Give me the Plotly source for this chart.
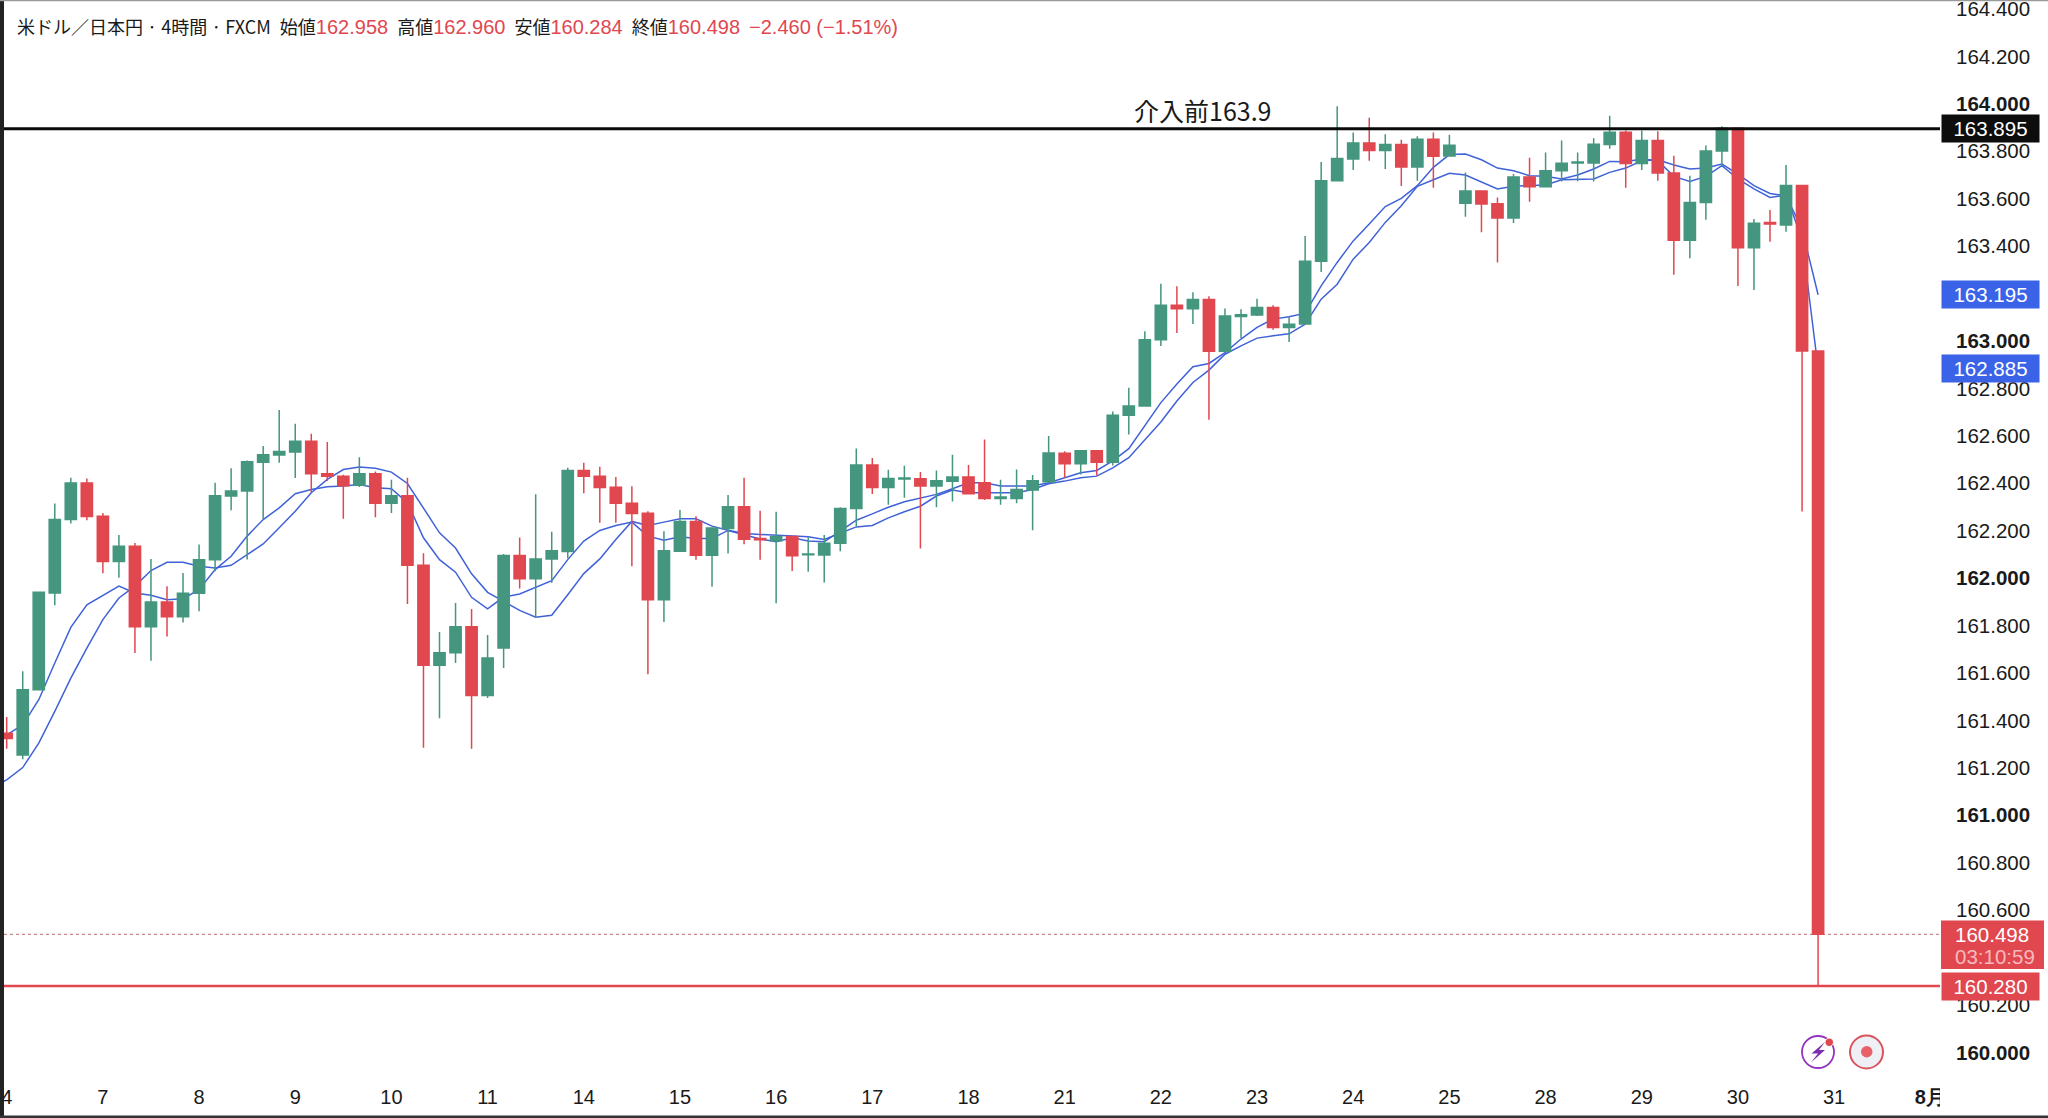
import numpy as np
import plotly.graph_objects as go

W, H = 2048, 1118
L, R, T, B = 4, 1940, 0, 1083  # plot rectangle in pixels

opens = [161.346,161.254,161.529,161.937,162.247,162.401,162.261,162.070,162.134,161.795,
161.899,161.837,161.936,162.077,162.346,162.367,162.489,162.519,162.532,162.577,
162.440,162.430,162.392,162.440,162.316,162.347,162.054,161.632,161.685,161.795,
161.505,161.705,162.095,161.997,162.081,162.112,162.454,162.430,162.383,162.316,
162.273,161.909,162.113,162.239,162.096,162.209,162.301,162.167,162.158,162.175,
162.098,162.097,162.147,162.294,162.477,162.382,162.418,162.419,162.388,162.408,
162.426,162.402,162.336,162.336,162.371,162.406,162.526,162.482,162.537,162.488,
162.687,162.726,163.005,163.151,163.136,163.175,162.957,163.103,163.109,163.141,
163.057,163.071,163.336,163.675,163.767,163.835,163.803,163.828,163.734,163.850,
163.780,163.581,163.632,163.579,163.518,163.691,163.650,163.718,163.750,163.750,
163.828,163.880,163.748,163.845,163.708,163.425,163.584,163.801,163.897,163.393,
163.499,163.489,163.655,162.958]
highs = [161.414,161.607,161.943,162.315,162.423,162.420,162.274,162.182,162.148,162.081,
161.966,162.022,162.142,162.402,162.463,162.496,162.557,162.709,162.651,162.609,
162.574,162.436,162.510,162.450,162.415,162.423,162.105,161.773,161.895,161.870,
161.760,162.102,162.171,162.354,162.195,162.465,162.486,162.470,162.426,162.387,
162.282,162.198,162.287,162.261,162.212,162.350,162.423,162.284,162.280,162.175,
162.172,162.182,162.299,162.546,162.506,162.457,162.474,162.447,162.454,162.520,
162.477,162.584,162.415,162.458,162.435,162.599,162.535,162.537,162.537,162.702,
162.803,163.041,163.241,163.231,163.205,163.188,163.137,163.134,163.178,163.151,
163.101,163.443,163.755,163.990,163.879,163.941,163.872,163.848,163.863,163.879,
163.869,163.710,163.635,163.605,163.704,163.772,163.795,163.845,163.795,163.855,
163.950,163.887,163.887,163.884,163.781,163.697,163.824,163.905,163.897,163.514,
163.552,163.742,163.655,162.960]
lows = [161.280,161.236,161.529,161.885,162.230,162.244,162.020,162.001,161.684,161.652,
161.754,161.813,161.860,162.029,162.286,162.078,162.247,162.486,162.422,162.360,
162.409,162.250,162.384,162.257,162.275,161.891,161.285,161.409,161.642,161.280,
161.494,161.621,161.956,161.832,161.980,162.084,162.358,162.233,162.233,162.050,
161.595,161.815,162.113,162.077,161.964,162.104,162.143,162.077,161.894,162.030,
162.027,161.981,162.113,162.219,162.355,162.309,162.339,162.125,162.299,162.323,
162.354,162.329,162.309,162.316,162.202,162.406,162.422,162.437,162.433,162.475,
162.606,162.726,162.979,163.033,163.072,162.668,162.957,163.012,163.105,163.047,
162.996,163.068,163.291,163.672,163.721,163.760,163.725,163.653,163.676,163.646,
163.780,163.524,163.458,163.331,163.497,163.587,163.650,163.672,163.673,163.672,
163.810,163.646,163.721,163.676,163.279,163.349,163.511,163.739,163.232,163.215,
163.418,163.460,162.281,160.284]
closes = [161.324,161.529,161.940,162.247,162.401,162.260,162.070,162.134,161.795,161.899,
161.837,161.936,162.077,162.347,162.367,162.491,162.520,162.534,162.577,162.440,
162.429,162.389,162.440,162.316,162.347,162.054,161.632,161.685,161.795,161.505,
161.663,162.095,161.997,162.081,162.115,162.454,162.429,162.382,162.316,162.272,
161.909,162.115,162.239,162.096,162.211,162.301,162.164,162.162,162.175,162.094,
162.102,162.147,162.294,162.477,162.382,162.420,162.422,162.388,162.410,162.426,
162.356,162.336,162.342,162.374,162.411,162.527,162.482,162.537,162.488,162.687,
162.726,163.005,163.151,163.136,163.175,162.957,163.105,163.110,163.141,163.057,
163.070,163.336,163.676,163.769,163.835,163.803,163.828,163.734,163.850,163.779,
163.825,163.632,163.577,163.518,163.691,163.650,163.718,163.749,163.755,163.829,
163.880,163.748,163.845,163.708,163.425,163.584,163.801,163.897,163.393,163.496,
163.493,163.655,162.958,160.498]

# moving averages, first value sits one bar before the first candle
ma_fast = [161.310,161.339,161.381,161.487,161.642,161.792,161.887,161.926,161.966,161.937,161.928,
161.909,161.913,161.951,162.036,162.092,162.177,162.247,162.296,162.356,162.374,
162.385,162.388,162.395,162.381,162.377,162.318,162.170,162.078,162.025,161.919,
161.870,161.920,161.933,161.961,161.989,162.078,162.156,162.201,162.222,162.236,
162.177,162.160,162.174,162.167,162.167,162.201,162.184,162.165,162.153,162.170,
162.156,162.153,162.198,162.244,162.271,162.299,162.322,162.336,162.353,162.377,
162.402,162.402,162.388,162.388,162.388,162.402,162.423,162.444,162.454,162.494,
162.546,162.642,162.740,162.818,162.891,162.905,162.951,163.008,163.057,163.092,
163.102,163.117,163.232,163.331,163.422,163.493,163.567,163.601,163.655,163.732,
163.786,163.788,163.764,163.729,163.718,163.697,163.694,163.683,163.700,163.725,
163.757,163.756,163.767,163.760,163.694,163.673,163.694,163.739,163.683,163.641,
163.605,163.615,163.429,162.885]
ma_slow = [161.120,161.149,161.201,161.304,161.438,161.578,161.705,161.825,161.916,161.966,162.032,
162.067,162.067,162.050,162.043,162.054,162.099,162.144,162.212,162.282,162.360,
162.416,162.458,162.468,162.463,162.447,162.399,162.296,162.191,162.127,162.018,
161.940,161.902,161.864,161.835,161.843,161.930,162.019,162.081,162.163,162.239,
162.222,162.236,162.250,162.250,162.219,162.202,162.188,162.184,162.180,162.177,
162.174,162.163,162.191,162.216,162.222,162.254,162.280,162.303,162.346,162.371,
162.360,162.360,162.357,162.360,162.374,162.398,162.409,162.423,162.430,162.465,
162.508,162.585,162.658,162.747,162.825,162.877,162.944,162.979,163.012,163.022,
163.030,163.071,163.176,163.239,163.345,163.415,163.500,163.570,163.652,163.680,
163.707,163.700,163.672,163.641,163.652,163.655,163.658,163.680,163.683,163.683,
163.711,163.729,163.760,163.764,163.742,163.725,163.729,163.746,163.704,163.655,
163.622,163.612,163.472,163.195]

day_labels = ["4","7","8","9","10","11","14","15","16","17","18","21","22","23","24",
              "25","28","29","30","31","<b>8月</b>"]
bars_per_day = 6
price_ticks = [round(160 + 0.2*k, 1) for k in range(23)]

level_before = 163.895
level_low = 160.280
level_last = 160.498
ma_last_slow = 163.195
ma_last_fast = 162.885

GREEN, RED, BLUE, INK = "#44967f", "#e0474f", "#3f62d9", "#1a1a1a"
FONT = "Liberation Sans, Arial, sans-serif"
CJK = "Noto Sans CJK JP, sans-serif"

x0_px, step_px = 6.7, 16.03
y164_px, unit_px = 103.8, 237.15
x_range = [(L - x0_px)/step_px, (R - x0_px)/step_px]
y_range = [164 - (B - y164_px)/unit_px, 164 - (T - y164_px)/unit_px]

def px(x):  # pixel to paper x
    return (x - L)/(R - L)
def py(y):  # pixel to paper y
    return (B - y)/(B - T)

fig = go.Figure()
idx = np.arange(len(opens))
ma_x = np.arange(-1, len(opens))
fig.add_trace(go.Scatter(x=ma_x, y=ma_fast, mode="lines", line=dict(color=BLUE, width=1.5),
                         hoverinfo="skip", zorder=0))
fig.add_trace(go.Scatter(x=ma_x, y=ma_slow, mode="lines", line=dict(color=BLUE, width=1.5),
                         hoverinfo="skip", zorder=0))
fig.add_trace(go.Candlestick(
    x=idx, open=opens, high=highs, low=lows, close=closes, whiskerwidth=0, zorder=1,
    increasing=dict(line=dict(color=GREEN, width=1.5), fillcolor=GREEN),
    decreasing=dict(line=dict(color=RED, width=1.5), fillcolor=RED)))

bolt = [(1825, 1042), (1811.5, 1053.5), (1818, 1053.5), (1811, 1062.5), (1825, 1050), (1819, 1050)]
bolt_path = "M " + " L ".join(f"{px(a):.5f} {py(b):.5f}" for a, b in bolt) + " Z"

shapes = [
    dict(type="line", xref="x domain", yref="y", x0=0, x1=1, y0=level_last, y1=level_last,
         line=dict(color="#c98a8e", width=1.2, dash="dot"), layer="below"),
    dict(type="line", xref="x domain", yref="y", x0=0, x1=1, y0=level_before, y1=level_before,
         line=dict(color="#0a0a0a", width=3)),
    dict(type="line", xref="x domain", yref="y", x0=0, x1=1, y0=level_low, y1=level_low,
         line=dict(color=RED, width=2.5)),
    # window frame and clipped time scale edges
    dict(type="rect", xref="paper", yref="paper", x0=px(1940), x1=px(1955), y0=py(1084), y1=py(1112),
         fillcolor="white", line_width=0),
    dict(type="rect", xref="paper", yref="paper", x0=px(0), x1=px(4), y0=py(0), y1=py(1118),
         fillcolor="#222222", line_width=0),
    dict(type="rect", xref="paper", yref="paper", x0=px(0), x1=px(2048), y0=py(1115.5), y1=py(1118),
         fillcolor="#333333", line_width=0),
    dict(type="rect", xref="paper", yref="paper", x0=px(0), x1=px(2048), y0=py(0), y1=py(1.2),
         fillcolor="#9a9a9a", line_width=0),
    # last price tag box
    dict(type="rect", xref="paper", yref="paper", x0=px(1941), x1=px(2044), y0=py(920.5), y1=py(969),
         fillcolor=RED, line_width=0),
    # icons
    dict(type="circle", xref="paper", yref="paper", x0=px(1802), x1=px(1834), y0=py(1036), y1=py(1068),
         fillcolor="white", line=dict(color="#9333c0", width=1.8)),
    dict(type="circle", xref="paper", yref="paper", x0=px(1825), x1=px(1833.5), y0=py(1038), y1=py(1046.5),
         fillcolor=RED, line=dict(color="white", width=1)),
    dict(type="path", xref="paper", yref="paper", path=bolt_path, fillcolor="#7b2fb0", line_width=0),
    dict(type="circle", xref="paper", yref="paper", x0=px(1850), x1=px(1883), y0=py(1035.5), y1=py(1068.5),
         fillcolor="#eef0f6", line=dict(color="#d9545c", width=2)),
    dict(type="circle", xref="paper", yref="paper", x0=px(1861), x1=px(1872.5), y0=py(1046), y1=py(1057.5),
         fillcolor="#e8606a", line_width=0),
]

def tag(y, text, bg, width=97, height=27):
    return dict(xref="paper", yref="y", x=px(1941), y=y, xanchor="left", yanchor="middle",
                text=text, showarrow=False, bgcolor=bg, width=width, height=height,
                align="center", borderpad=0, font=dict(family=FONT, size=20.5, color="white"))

NUM = f'<span style="color:{RED};font-family:Liberation Sans;font-size:20px">'
GAP = "\u2002"
header = (f"米ドル／日本円 · 4時間 · FXCM{GAP}始値{NUM}162.958</span>{GAP}高値{NUM}162.960</span>"
          f"{GAP}安値{NUM}160.284</span>{GAP}終値{NUM}160.498</span>{GAP}{NUM}−2.460 (−1.51%)</span>")

annotations = [
    dict(xref="paper", yref="paper", x=px(15), y=py(26), xanchor="left", yanchor="middle", showarrow=False,
         text=header, font=dict(family=CJK, size=18, color=INK)),
    dict(xref="x", yref="y", x=74.6, y=163.975, showarrow=False, text="介入前163.9",
         font=dict(family=CJK, size=25, color=INK)),
    tag(level_before, f"{level_before:.3f}", "#0d0d0d"),
    tag(ma_last_slow, f"{ma_last_slow:.3f}", "#3a63e8"),
    tag(ma_last_fast, f"{ma_last_fast:.3f}", "#3a63e8"),
    tag(level_low, f"{level_low:.3f}", RED),
    dict(xref="paper", yref="paper", x=px(1953), y=py(934), xanchor="left", yanchor="middle", showarrow=False,
         text=f"{level_last:.3f}", font=dict(family=FONT, size=20.5, color="white")),
    dict(xref="paper", yref="paper", x=px(1953), y=py(956), xanchor="left", yanchor="middle", showarrow=False,
         text="03:10:59", font=dict(family=FONT, size=20.5, color="#f6b9bc")),
]

fig.update_layout(
    width=W, height=H, autosize=False,
    margin=dict(l=L, r=W-R, t=T, b=H-B, autoexpand=False),
    paper_bgcolor="white", plot_bgcolor="white",
    showlegend=False, boxgap=0.3, boxgroupgap=0,
    shapes=shapes, annotations=annotations,
    xaxis=dict(range=x_range, rangeslider=dict(visible=False), showgrid=False, zeroline=False,
               tickmode="array", tickvals=[k*bars_per_day for k in range(len(day_labels))],
               ticktext=day_labels, ticks="", showline=False, ticklabelstandoff=0,
               tickfont=dict(family=FONT, size=20, color=INK)),
    yaxis=dict(range=y_range, side="right", showgrid=False, zeroline=False, showline=False,
               automargin=False,
               tickmode="array", tickvals=price_ticks, ticklabeloverflow="allow",
               ticktext=[(f"<b>{v:.3f}</b>" if abs(v-round(v)) < 1e-9 else f"{v:.3f}") for v in price_ticks],
               ticks="", ticklabelstandoff=15,
               tickfont=dict(family=FONT, size=20.5, color=INK)),
)

fig.write_html("out.html", config=dict(displayModeBar=False),
               post_script="document.body.style.margin='0';document.body.style.overflow='hidden';")
